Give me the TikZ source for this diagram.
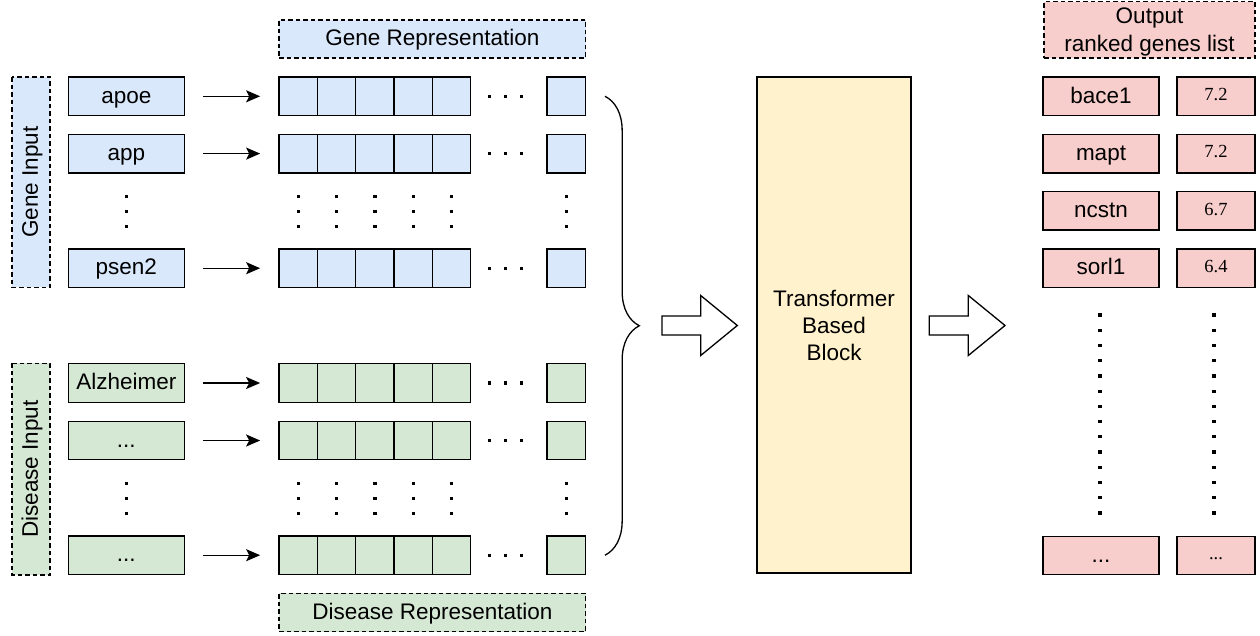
\documentclass[tikz,border=0pt]{standalone}
\usepackage{fontspec}
\setmainfont{Liberation Sans}
\newfontfamily\numfont{Liberation Serif}
\usetikzlibrary{arrows.meta,decorations.pathreplacing,calc}
\definecolor{gfill}{HTML}{DAE8FC}
\definecolor{dfill}{HTML}{D5E8D4}
\definecolor{ofill}{HTML}{F8CECC}
\definecolor{tfill}{HTML}{FFF2CC}
\def\tdots{...}
\begin{document}
\begin{tikzpicture}[x=1pt,y=-1pt,
  box/.style={draw=black,line width=1.4pt,inner sep=0pt,outer sep=0pt,font=\fontsize{22.5}{27}\selectfont,align=center},
  oneline/.style={text height=18pt,text depth=4.5pt},
  inbox/.style={box,oneline,minimum width=116pt,minimum height=38.5pt},
  cell/.style={box,minimum width=38.3pt,minimum height=38.5pt},
  dashbox/.style={box,dash pattern=on 4.5pt off 3pt},
  outbox/.style={box,oneline,fill=ofill,minimum width=116pt,minimum height=38.5pt},
  scorebox/.style={box,fill=ofill,minimum width=78pt,minimum height=38.5pt,font=\numfont\fontsize{18.5}{22}\selectfont,text height=13pt,text depth=4.2pt},
  arr/.style={line width=1.4pt,-{Stealth[length=14pt,width=12pt,inset=3pt]},shorten <=19pt,shorten >=19pt},
  hollow/.style={draw,line width=1.3pt,fill=white,line join=miter},
  bracestyle/.style={line width=1.3pt,decorate,decoration={brace,amplitude=34.3pt}},
  sq/.style={fill=black}
]
\useasboundingbox (0,0) rectangle (1260,636);

% ---------- gene rows ----------
\foreach \lab/\y/\n in {apoe/96.3/ga, app/153.6/gb, psen2/268.2/gc}{
  \node[inbox,fill=gfill] (\n-in) at (126.3,\y) {\lab};
  \foreach \k in {0,...,4}{\node[cell,fill=gfill] (\n-c\k) at ({298.3+38.3*\k},\y) {};}
  \node[cell,fill=gfill] (\n-last) at (566.2,\y) {};
  \draw[arr] (\n-in.east) -- (\n-c0.west);
  \foreach \dx in {489.5,505.5,521.5}{\fill[sq] (\dx,\y) +(-1.6,-1.6) rectangle +(1.6,1.6);}
}
% ---------- disease rows ----------
\foreach \lab/\y/\n in {Alzheimer/383/da, \tdots/440.5/db, \tdots/555.2/dc}{
  \node[inbox,fill=dfill] (\n-in) at (126.3,\y) {\lab};
  \foreach \k in {0,...,4}{\node[cell,fill=dfill] (\n-c\k) at ({298.3+38.3*\k},\y) {};}
  \node[cell,fill=dfill] (\n-last) at (566.2,\y) {};
  \draw[arr] (\n-in.east) -- (\n-c0.west);
  \foreach \dx in {489.5,505.5,521.5}{\fill[sq] (\dx,\y) +(-1.6,-1.6) rectangle +(1.6,1.6);}
}
% vertical ellipses
\foreach \dx in {126.3,298.3,336.6,374.9,413.2,451.5,566.2}{
  \foreach \dy in {196.7,211.7,226.7,483.3,498.3,513.3}{
    \fill[sq] (\dx,\dy) +(-1.6,-1.6) rectangle +(1.6,1.6);
  }
}

% ---------- dashed group labels ----------
\node[dashbox,oneline,fill=gfill,minimum width=306.5pt,minimum height=38pt] (grep) at (432.4,39) {Gene Representation};
\node[dashbox,oneline,fill=dfill,minimum width=306.5pt,minimum height=38.4pt] (drep) at (432.4,612.5) {Disease Representation};
\node[dashbox,oneline,fill=gfill,rotate=90,minimum width=210.3pt,minimum height=38.3pt] (gin) at (31,182.2) {Gene Input};
\node[dashbox,oneline,fill=dfill,rotate=90,minimum width=211.7pt,minimum height=38.3pt] (din) at (31,469.2) {Disease Input};
\node[dashbox,fill=ofill,minimum width=211pt,minimum height=56.5pt] (out) at (1149.5,29.8) {};
\node[font=\fontsize{22.5}{28}\selectfont,align=center,inner sep=0pt] (outtxt) at ($(out.center)+(0,2.5)$) {Output\\ranked genes list};

% ---------- brace ----------
\coordinate (bt) at (605,96.3);
\coordinate (bb) at (605,555.2);
\draw[bracestyle] (bt) -- (bb);

% ---------- transformer ----------
\node[box,fill=tfill,minimum width=154pt,minimum height=496pt] (tr) at (834,325) {Transformer\\Based\\Block};

% ---------- hollow arrows ----------
\draw[hollow] (662,316) -- (700.7,316) -- (700.7,295.5) -- (737.3,325.5) -- (700.7,355.5) -- (700.7,335) -- (662,335) -- cycle;
\draw[hollow] (929.3,316) -- (968.3,316) -- (968.3,295.5) -- (1005,325.5) -- (968.3,355.5) -- (968.3,335) -- (929.3,335) -- cycle;

% ---------- output list ----------
\foreach \g/\s/\y/\n in {bace1/7.2/96.3/oa, mapt/7.2/153.6/ob, ncstn/6.7/210.9/oc, sorl1/6.4/268.2/od, \tdots/\tdots/555.5/oe}{
  \node[outbox] (\n-g) at (1101,\y) {\g};
  \node[scorebox] (\n-s) at (1216,\y) {\s};
}
\foreach \k in {0,...,13}{
  \fill[sq] (1100,{315+15.23*\k}) +(-1.6,-1.6) rectangle +(1.6,1.6);
  \fill[sq] (1214,{315+15.23*\k}) +(-1.6,-1.6) rectangle +(1.6,1.6);
}
\end{tikzpicture}
\end{document}
